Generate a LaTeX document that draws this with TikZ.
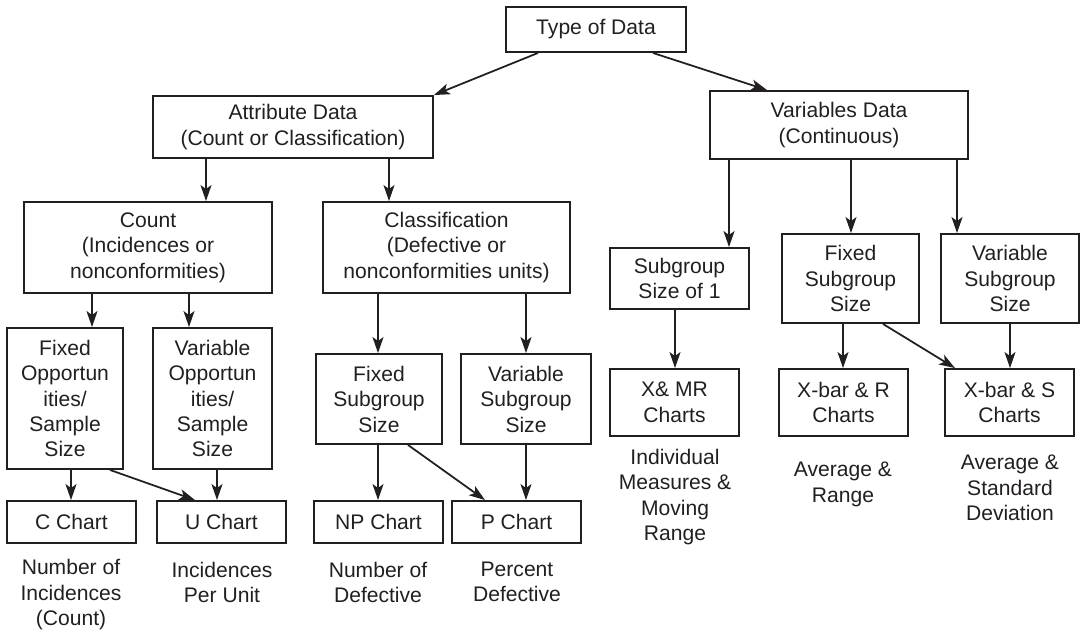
\documentclass[tikz,border=0pt]{standalone}
\usepackage{fontspec}
\setmainfont{Liberation Sans}
\usepackage{tikz}
\usetikzlibrary{arrows.meta}
\definecolor{ink}{RGB}{35,31,32}
\NewDocumentCommand{\boxfont}{}{\fontsize{12}{14.5}\selectfont}

\begin{document}
\begin{tikzpicture}[x=0.02cm, y=-0.02cm, color=ink, line width=1pt,
        >={Stealth[length=0.32cm, width=0.22cm, inset=0.08cm]},
        main/.style = {draw, line width=1.1pt, inner sep=0pt, align=center,
                        font=\boxfont},
        note/.style = {inner sep=0pt, align=center, font=\boxfont}]
        \useasboundingbox (0,0) rectangle (1081,635);

        \node[main, minimum width=3.6cm, minimum height=0.9cm] (type) at (596,29.5) {Type of Data};
        \node[main, minimum width=5.6cm, minimum height=1.24cm] (attr) at (293,127) {Attribute Data\\(Count or Classification)};
        \node[main, minimum width=5.16cm, minimum height=1.36cm] (vars) at (839,125) {Variables Data\\(Continuous)};

        \node[main, minimum width=4.96cm, minimum height=1.82cm] (count) at (148,247.5) {Count\\(Incidences or\\nonconformities)};
        \node[main, minimum width=4.94cm, minimum height=1.82cm] (class) at (446.5,247.5) {Classification\\(Defective or\\nonconformities units)};

        \node[main, minimum width=2.32cm, minimum height=2.82cm] (fixopp) at (65,398.5) {Fixed\\Opportun\\ities/\\Sample\\Size};
        \node[main, minimum width=2.38cm, minimum height=2.82cm] (varopp) at (212.5,398.5) {Variable\\Opportun\\ities/\\Sample\\Size};
        \node[main, minimum width=2.52cm, minimum height=1.8cm] (fixsub) at (379,399) {Fixed\\Subgroup\\Size};
        \node[main, minimum width=2.6cm, minimum height=1.8cm] (varsub) at (526,399) {Variable\\Subgroup\\Size};

        \node[main, minimum width=2.58cm, minimum height=0.84cm] (cchart) at (71.5,522) {C Chart};
        \node[main, minimum width=2.58cm, minimum height=0.84cm] (uchart) at (221.5,522) {U Chart};
        \node[main, minimum width=2.58cm, minimum height=0.84cm] (npchart) at (378.5,522) {NP Chart};
        \node[main, minimum width=2.58cm, minimum height=0.84cm] (pchart) at (516.5,522) {P Chart};

        \node[main, minimum width=2.78cm, minimum height=1.22cm] (sub1) at (679.5,278.5) {Subgroup\\Size of 1};
        \node[main, minimum width=2.74cm, minimum height=1.78cm] (vfix) at (850.5,278.5) {Fixed\\Subgroup\\Size};
        \node[main, minimum width=2.76cm, minimum height=1.78cm] (vvar) at (1010,278.5) {Variable\\Subgroup\\Size};

        \node[main, minimum width=2.58cm, minimum height=1.34cm] (xmr) at (674.5,402.5) {X\& MR\\Charts};
        \node[main, minimum width=2.58cm, minimum height=1.34cm] (xr) at (843.5,402.5) {X-bar \& R\\Charts};
        \node[main, minimum width=2.58cm, minimum height=1.34cm] (xs) at (1009.5,402.5) {X-bar \& S\\Charts};

        \node[note] (ninc) at (71,595) {Number of\\Incidences\\(Count)};
        \node[note] (nipu) at (222,582.5) {Incidences\\Per Unit};
        \node[note] (nnod) at (378,582.5) {Number of\\Defective};
        \node[note] (npd) at (517,582) {Percent\\Defective};
        \node[note] (nimm) at (675,497) {Individual\\Measures \&\\Moving\\Range};
        \node[note] (nar) at (843,484.5) {Average \&\\Range};
        \node[note] (nasd) at (1010,488) {Average \&\\Standard\\Deviation};

        \draw[->] (type.south -| 538,0) -- (attr.north east);
        \draw[->] (type.south -| 653,0) -- (vars.north -| 767,0);

        \draw[->] (attr.south -| 206,0) -- (count.north -| 206,0);
        \draw[->] (attr.south -| 389,0) -- (class.north -| 389,0);
        \draw[->] (vars.south -| 729,0) -- (sub1.north -| 729,0);
        \draw[->] (vars.south -| 851,0) -- (vfix.north -| 851,0);
        \draw[->] (vars.south -| 957,0) -- (vvar.north -| 957,0);

        \draw[->] (count.south -| 92,0) -- (fixopp.north -| 92,0);
        \draw[->] (count.south -| 189,0) -- (varopp.north -| 189,0);
        \draw[->] (class.south -| 378,0) -- (fixsub.north -| 378,0);
        \draw[->] (class.south -| 526,0) -- (varsub.north -| 526,0);

        \draw[->] (fixopp.south -| 71,0) -- (cchart.north -| 71,0);
        \draw[->] (fixopp.south -| 110,0) -- (uchart.north -| 195,0);
        \draw[->] (varopp.south -| 217,0) -- (uchart.north -| 217,0);
        \draw[->] (fixsub.south -| 378,0) -- (npchart.north -| 378,0);
        \draw[->] (fixsub.south -| 408,0) -- (pchart.north -| 485,0);
        \draw[->] (varsub.south -| 526,0) -- (pchart.north -| 526,0);

        \draw[->] (sub1.south -| 675,0) -- (xmr.north -| 675,0);
        \draw[->] (vfix.south -| 843,0) -- (xr.north -| 843,0);
        \draw[->] (vfix.south -| 883,0) -- (xs.north -| 955,0);
        \draw[->] (vvar.south -| 1010,0) -- (xs.north -| 1010,0);
    \end{tikzpicture}
\end{document}
